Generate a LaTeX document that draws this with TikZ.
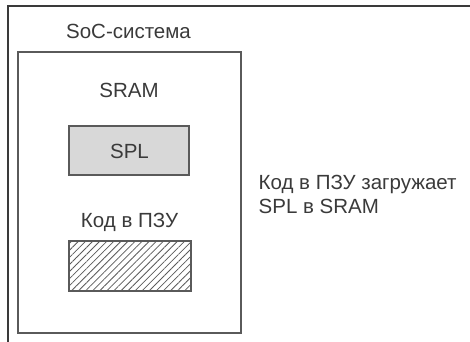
\documentclass[tikz,border=0pt]{standalone}
\usepackage{fontspec}
\setmainfont{Liberation Sans}
\usetikzlibrary{patterns.meta}
\definecolor{ink}{HTML}{3A3A3A}
\definecolor{edge}{HTML}{5A5A5A}
\definecolor{splfill}{HTML}{D8D8D8}
\begin{document}
\begin{tikzpicture}[x=1pt,y=-1pt,
  lbl/.style={text=ink,font=\fontsize{20.5}{24}\selectfont,inner sep=0pt},
  block/.style={draw=edge,line width=1.4pt,inner sep=0pt},
]
\useasboundingbox (0,0) rectangle (470,341);
\clip (0,0) rectangle (470,341);
% outer system frame (right and bottom edges fall off the page)
\node[block,draw=ink,line width=1.2pt,minimum width=472pt,minimum height=344pt] (soc) at (244,178) {};
\node[lbl,anchor=base] (soclbl) at (128.5,38) {SoC-система};
% on-chip SRAM
\node[block,minimum width=223pt,minimum height=281pt] (sram) at (129.5,192.5) {};
\node[lbl,anchor=base] (sramlbl) at (129,97) {SRAM};
% SPL image loaded into SRAM
\node[block,fill=splfill,minimum width=120pt,minimum height=49pt] (spl) at (129,150.5) {};
\node[lbl,anchor=base] (spllbl) at (129.5,158) {SPL};
% boot ROM code
\node[lbl,anchor=base] (romlbl) at (129.5,227) {Код в ПЗУ};
\node[block,pattern={Lines[angle=45,distance=5pt,line width=0.8pt]},pattern color=edge,
      minimum width=122pt,minimum height=50pt] (rom) at (130,266) {};
% explanation
\node[lbl,anchor=base west] (note1) at (258.5,189) {Код в ПЗУ загружает};
\node[lbl,anchor=base west] (note2) at (258.5,213) {SPL в SRAM};
\end{tikzpicture}
\end{document}
